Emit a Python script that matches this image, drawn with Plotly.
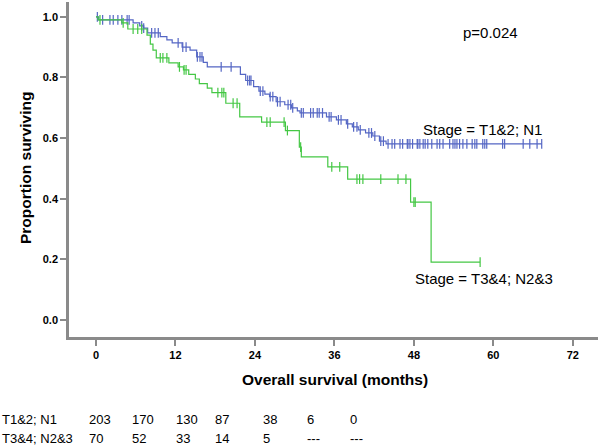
import bisect
import plotly.graph_objects as go

# ---- data ----
blue_name = "Stage = T1&2; N1"
blue_times = [0, 0.4, 5.6, 6.6, 7.2, 7.8, 9.7, 10.7, 11.5, 13.0, 14.2, 15.2, 16.2, 16.8,
              21.8, 22.6, 23.8, 24.6, 25.5, 26.2, 27.2, 28.5, 29.5, 30.4, 30.8, 34.8,
              36.3, 37.8, 38.7, 39.6, 40.7, 41.8, 42.8, 43.8]
blue_surv = [1.0, 0.99, 0.98, 0.97, 0.963, 0.947, 0.935, 0.924, 0.914, 0.90, 0.89, 0.868,
             0.85, 0.835, 0.81, 0.79, 0.77, 0.755, 0.745, 0.737, 0.72, 0.71, 0.70, 0.69,
             0.683, 0.67, 0.66, 0.647, 0.637, 0.627, 0.617, 0.607, 0.59, 0.581]
blue_end = 67.3
blue_censor = [0.2, 1.0, 2.1, 2.6, 3.3, 3.9, 4.7, 5.0, 6.9, 7.2, 8.4, 8.9, 9.4, 12.4, 13.1,
               13.6, 15.3, 15.7, 16.0, 18.9, 20.4, 22.9, 23.2, 23.4, 24.8, 25.2, 26.3,
               26.7, 27.4, 27.8, 29.0, 29.4, 29.7, 31.0, 31.3, 32.4, 32.8, 33.4, 33.7,
               34.2, 35.2, 35.5, 36.6, 37.0, 38.0, 38.9, 39.4, 39.9, 41.2, 41.6, 42.1,
               43.0, 43.4, 44.1, 44.7, 45.1, 45.9, 46.3, 47.0, 47.1, 47.4, 47.8, 48.5,
               48.6, 48.9, 49.4, 49.7, 50.1, 50.7, 51.5, 51.9, 52.4, 53.4, 53.9, 54.2,
               54.5, 54.9, 55.4, 56.0, 56.8, 57.2, 57.5, 58.4, 58.7, 59.0, 61.4, 61.7,
               64.5, 65.5, 66.6, 67.3]

green_name = "Stage = T3&4; N2&3"
green_times = [0, 0.3, 3.9, 4.8, 7.7, 8.2, 8.6, 9.1, 11.0, 12.4, 13.2, 14.0, 15.0, 15.6,
               16.8, 17.5, 19.6, 21.7, 25.0, 28.6, 30.7, 31.0, 35.0, 38.0, 47.5, 50.6]
green_surv = [1.0, 0.99, 0.98, 0.96, 0.94, 0.91, 0.89, 0.865, 0.848, 0.835, 0.825, 0.81,
              0.795, 0.78, 0.765, 0.75, 0.715, 0.67, 0.653, 0.625, 0.57, 0.538, 0.505,
              0.465, 0.389, 0.191]
green_end = 58.0
green_censor = [0.6, 4.1, 5.6, 6.3, 6.9, 9.7, 10.1, 10.7, 12.6, 13.3, 13.6, 18.4, 19.0,
                19.3, 20.7, 21.3, 25.8, 26.3, 28.4, 28.9, 30.9, 35.6, 36.8, 39.4, 39.8,
                40.3, 43.0, 45.6, 46.8, 48.0, 48.2, 58.0]

x_ticks = [0, 12, 24, 36, 48, 60, 72]
y_ticks = [0.0, 0.2, 0.4, 0.6, 0.8, 1.0]
p_text = "p=0.024"

risk_labels = ["T1&2; N1", "T3&4; N2&3"]
risk_t12 = ["203", "170", "130", "87", "38", "6", "0"]
risk_t34 = ["70", "52", "33", "14", "5", "---", "---"]

BLUE = "#5466c4"
GREEN = "#44c744"
FONT = "Arial, Liberation Sans, sans-serif"

# geometry (pixels)
W, H = 600, 446
L, R, T, B = 69, 2, 2, 109
PW, PH = W - L - R, H - T - B


def px(x):
    return (x - L) / PW


def py(y):
    return (H - B - y) / PH


def surv_at(times, surv, t):
    i = bisect.bisect_right(times, t) - 1
    return surv[max(i, 0)]


fig = go.Figure()
for name, times, surv, end, cens, col in [
    (blue_name, blue_times, blue_surv, blue_end, blue_censor, BLUE),
    (green_name, green_times, green_surv, green_end, green_censor, GREEN),
]:
    fig.add_trace(go.Scatter(
        x=times + [end], y=surv + [surv[-1]], mode="lines", line_shape="hv",
        line=dict(color=col, width=1.2), showlegend=False, hoverinfo="skip"))
    fig.add_trace(go.Scatter(
        x=cens, y=[surv_at(times, surv, t) for t in cens], mode="markers",
        marker=dict(symbol="line-ns", size=7, line=dict(color=col, width=1.2)),
        showlegend=False, hoverinfo="skip"))

axis_common = dict(showline=True, linecolor="#8a8a8a", linewidth=2.5, ticks="outside",
                   tickcolor="#8a8a8a", tickwidth=2, ticklen=6, showgrid=False,
                   zeroline=False, mirror=False,
                   tickfont=dict(family=FONT, size=11, color="black", weight="bold"))

fig.update_xaxes(range=[-4.08, 75.8], tickvals=x_ticks,
                 ticktext=[str(v) for v in x_ticks], **axis_common)
fig.update_yaxes(range=[-0.056, 1.049], tickvals=y_ticks,
                 ticktext=[f"{v:.1f}" for v in y_ticks], **axis_common)

ann = []
ann.append(dict(text="<b>Overall survival (months)</b>", x=px(335), y=py(380),
                font=dict(size=15.5)))
ann.append(dict(text="<b>Proportion surviving</b>", x=px(25), y=py(168), textangle=-90,
                font=dict(size=15.5)))
ann.append(dict(text=p_text, x=px(490), y=py(32), font=dict(size=15)))
ann.append(dict(text=blue_name, x=px(482), y=py(129), font=dict(size=15)))
ann.append(dict(text=green_name, x=px(484), y=py(278), font=dict(size=15)))

col_x = [87, 130, 174, 213, 261, 305, 348]
for row_y, label, vals in [(419, risk_labels[0], risk_t12), (438, risk_labels[1], risk_t34)]:
    ann.append(dict(text=label, x=px(0), y=py(row_y), xanchor="left", font=dict(size=13)))
    for cx, v in zip(col_x, vals):
        ann.append(dict(text=v, x=px(cx), y=py(row_y), xanchor="left", font=dict(size=13)))

for a in ann:
    a.setdefault("xanchor", "center")
    a["yanchor"] = "middle"
    a["xref"] = "paper"
    a["yref"] = "paper"
    a["showarrow"] = False
    a["font"] = dict(family=FONT, color="black", size=a["font"]["size"])

fig.update_layout(width=W, height=H, margin=dict(l=L, r=R, t=T, b=B, autoexpand=False),
                  paper_bgcolor="white", plot_bgcolor="white", annotations=ann,
                  font=dict(family=FONT, color="black"))

fig.write_html("out.html", config={"displayModeBar": False},
               post_script="document.body.style.margin='0';document.body.style.overflow='hidden';")
